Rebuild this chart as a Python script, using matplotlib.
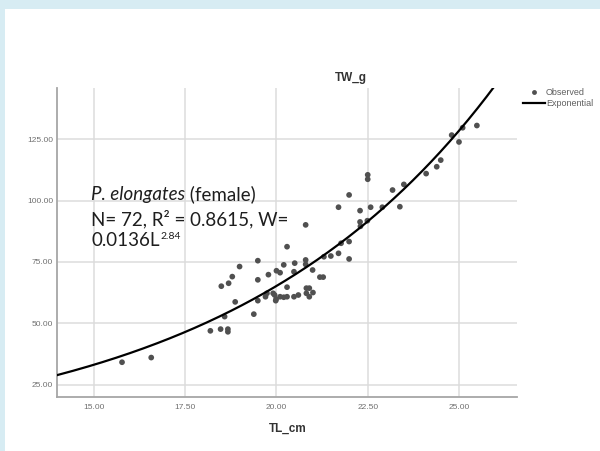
import matplotlib
matplotlib.use("Agg")
import matplotlib.pyplot as plt
import numpy as np
from matplotlib.patches import Rectangle
from matplotlib.lines import Line2D

# ---- data ----
tl_cm = [15.77, 16.57, 18.19, 18.47, 18.67, 18.67, 18.58, 19.38, 18.87, 18.49,
         18.69, 18.79, 18.99, 19.49, 19.49, 19.78, 20.00, 19.49, 19.70, 19.91,
         19.98, 21.70, 22.29, 22.58, 22.29, 22.49, 20.80, 20.29, 21.99, 21.77,
         21.70, 21.49, 21.30, 21.99, 20.80, 20.50, 20.20, 20.80, 20.99, 21.19,
         21.28, 20.10, 20.48, 20.29, 20.82, 20.90, 20.82, 20.90, 19.74, 19.95,
         20.10, 20.20, 20.29, 20.48, 19.99, 21.99, 22.50, 22.50, 22.90, 23.18,
         23.38, 23.49, 24.10, 24.39, 24.50, 24.80, 25.10, 25.00, 25.49, 21.00,
         22.30, 20.60]
tw_g = [34.1, 36.0, 46.9, 47.6, 47.6, 46.5, 52.7, 53.7, 58.7, 65.1,
        66.3, 69.0, 73.1, 75.5, 67.7, 69.8, 71.4, 59.2, 60.8, 62.2,
        59.2, 97.3, 95.9, 97.3, 91.3, 91.8, 90.1, 81.2, 83.3, 82.6,
        78.5, 77.4, 77.1, 76.2, 75.8, 74.5, 73.8, 74.0, 71.7, 68.8,
        68.8, 70.6, 71.0, 64.7, 64.3, 64.3, 62.2, 60.8, 62.2, 61.5,
        60.8, 60.6, 60.8, 60.8, 59.8, 102.3, 110.5, 108.7, 97.3, 104.3,
        97.5, 106.6, 111.0, 113.8, 116.5, 126.7, 129.7, 123.9, 130.6, 62.5,
        89.5, 61.5]

# exponential fit parameters (TW = b0 * exp(b1 * TL))
b0 = 4.32
b1 = 0.1357

x_ticks = [15.0, 17.5, 20.0, 22.5, 25.0]
x_tick_labels = ["15.00", "17.50", "20.00", "22.50", "25.00"]
y_ticks = [25.0, 50.0, 75.0, 100.0, 125.0]
y_tick_labels = ["25.00", "50.00", "75.00", "100.00", "125.00"]
x_lim = (14.0, 26.6)
y_lim = (19.8, 145.9)

W, H = 600, 451
fig = plt.figure(figsize=(6.0, 4.51), dpi=100)
fig.patch.set_facecolor("white")

band = "#d7ecf3"
fig.patches.append(Rectangle((0, 1 - 9 / H), 1, 9 / H, transform=fig.transFigure,
                             facecolor=band, edgecolor="none", zorder=0))
fig.patches.append(Rectangle((0, 0), 5 / W, 1, transform=fig.transFigure,
                             facecolor=band, edgecolor="none", zorder=0))

ax = fig.add_axes([57.4 / W, 1 - 397.3 / H, (517.4 - 57.4) / W, (397.3 - 88) / H])
ax.set_facecolor("none")
ax.set_xlim(*x_lim)
ax.set_ylim(*y_lim)
ax.set_xticks(x_ticks)
ax.set_xticklabels(x_tick_labels, fontsize=6, color="#707070", family="Liberation Sans")
ax.set_yticks(y_ticks)
ax.set_yticklabels(y_tick_labels, fontsize=6, color="#707070", family="Liberation Sans")
ax.tick_params(axis="both", length=0)
ax.tick_params(axis="x", pad=5)
ax.tick_params(axis="y", pad=3)
ax.grid(True, color="#dcdcdc", linewidth=1.1)
ax.set_axisbelow(True)
for s in ["top", "right"]:
    ax.spines[s].set_visible(False)
for s in ["left", "bottom"]:
    ax.spines[s].set_color("#a6a6a6")
    ax.spines[s].set_linewidth(1.3)

ax.scatter(tl_cm, tw_g, s=17, color="#505050", edgecolors="none", zorder=3)
xc = np.linspace(x_lim[0], x_lim[1], 300)
ax.plot(xc, b0 * np.exp(b1 * xc), color="black", linewidth=1.6, zorder=4)

# axis titles
fig.text(351 / W, 1 - 78 / H, "TW_g", ha="center", va="center", fontsize=8.5,
         fontweight="bold", family="Liberation Sans", color="#333333")
fig.text(288 / W, 1 - 429 / H, "TL_cm", ha="center", va="center", fontsize=8.5,
         fontweight="bold", family="Liberation Sans", color="#333333")

# legend
handles = [Line2D([], [], marker="o", linestyle="none", markersize=3.5,
                  markerfacecolor="#505050", markeredgecolor="none"),
           Line2D([], [], color="black", linewidth=1.6)]
fig.legend(handles, ["Observed", "Exponential"], loc="upper left",
           bbox_to_anchor=(523 / W, 1 - 88 / H), frameon=False,
           prop={"family": "Liberation Sans", "size": 6.5}, labelcolor="#606060",
           handlelength=2.4, handletextpad=0.15, labelspacing=0.2,
           borderaxespad=0, borderpad=0)

# annotation
tc = "#1e1e1e"
fs = 13.5
t1 = fig.text(91 / W, 1 - 200 / H, "P. elongates", fontsize=fs, family="Lato",
              style="italic", color=tc, va="baseline", ha="left")
fig.canvas.draw()
r = fig.canvas.get_renderer()
bb = t1.get_window_extent(r)
fig.text(bb.x1 / W, 1 - 200 / H, " (female)", fontsize=fs, family="Lato",
         color=tc, va="baseline", ha="left")
fig.text(91 / W, 1 - 225 / H, "N= 72, R\u00b2 = 0.8615, W=", fontsize=fs,
         family="Lato", color=tc, va="baseline", ha="left")
t3 = fig.text(91 / W, 1 - 245.5 / H, "0.0136L", fontsize=fs, family="Lato",
              color=tc, va="baseline", ha="left")
fig.canvas.draw()
bb3 = t3.get_window_extent(r)
fig.text(bb3.x1 / W + 0.002, 1 - 239 / H, "2.84", fontsize=7.5, family="Lato",
         color=tc, va="baseline", ha="left")

fig.savefig("out.png", dpi=100)
